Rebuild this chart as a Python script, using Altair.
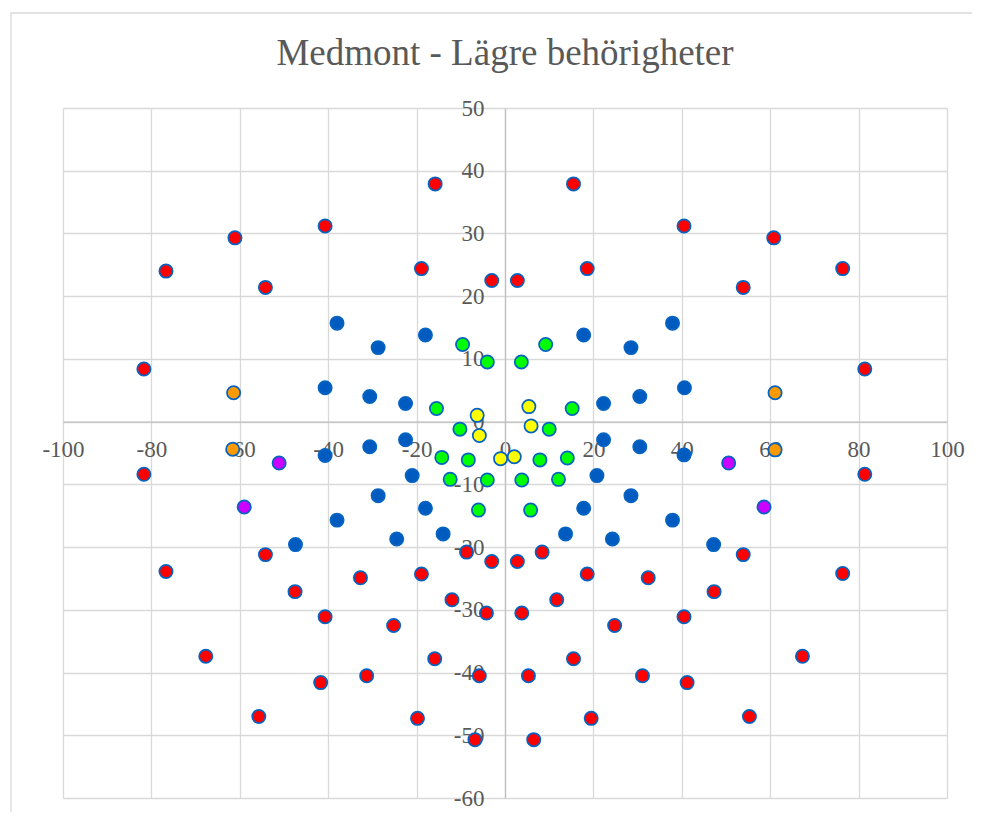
import altair as alt
import pandas as pd

# ---- data ----
red_x = [-15.8, 15.5, -40.7, 40.5, -61.1, 60.8, -76.7, 76.4, -54.2, 53.9, -18.9, 18.6, -3.0, 2.8, -81.7, 81.4,
         -81.7, 81.4, -76.7, 76.4, -54.2, 53.9, -47.5, 47.3, -32.7, 32.4, -18.9, 18.6, -8.7, 8.4, -3.0, 2.8,
         -12.0, 11.7, -4.2, 3.8, -40.7, 40.5, -25.2, 24.8, -67.7, 67.3, -15.9, 15.5, -41.7, 41.2, -31.3, 31.1,
         -5.8, 5.3, -55.7, 55.3, -19.8, 19.5, -6.8, 6.5]
red_y = [37.9, 37.9, 31.2, 31.2, 29.3, 29.3, 24.0, 24.4, 21.4, 21.4, 24.4, 24.4, 22.5, 22.5, 8.4, 8.4,
         -8.4, -8.4, -23.9, -24.2, -21.2, -21.2, -27.1, -27.1, -24.9, -24.9, -24.3, -24.3, -20.8, -20.8, -22.3, -22.3,
         -28.4, -28.4, -30.5, -30.5, -31.1, -31.1, -32.5, -32.5, -37.4, -37.4, -37.8, -37.8, -41.6, -41.6, -40.5, -40.5,
         -40.5, -40.5, -47.0, -47.0, -47.3, -47.3, -50.7, -50.7]

blue_x = [-38.0, 37.9, -28.7, 28.5, -18.0, 17.8, -40.7, 40.6, -30.6, 30.5, -22.5, 22.3, -22.5, 22.3, -30.6, 30.5,
          -40.7, 40.5, -21.0, 20.8, -28.7, 28.5, -18.0, 17.8, -38.0, 37.9, -14.0, 13.7, -24.5, 24.3, -47.4, 47.2]
blue_y = [15.7, 15.7, 11.8, 11.8, 13.8, 13.8, 5.4, 5.4, 4.0, 4.0, 2.9, 2.9, -2.9, -2.9, -4.0, -4.0,
          -5.4, -5.3, -8.6, -8.6, -11.8, -11.8, -13.8, -13.8, -15.7, -15.7, -17.9, -17.9, -18.7, -18.7, -19.6, -19.6]

orange_x = [-61.4, 61.1, -61.6, 61.1]
orange_y = [4.6, 4.6, -4.4, -4.5]

purple_x = [-51.1, 50.6, -59.0, 58.6]
purple_y = [-6.6, -6.6, -13.6, -13.6]

green_x = [-9.6, 9.2, -4.0, 3.7, -15.5, 15.2, -10.2, 10.0, -14.3, 14.1, -8.3, 7.9, -12.4, 12.1, -4.0, 3.8, -6.0, 5.8]
green_y = [12.3, 12.3, 9.5, 9.5, 2.1, 2.1, -1.2, -1.2, -5.7, -5.8, -6.1, -6.1, -9.2, -9.2, -9.3, -9.3, -14.1, -14.1]

yellow_x = [-6.3, 5.4, -5.8, 5.9, -1.0, 2.1]
yellow_y = [1.0, 2.4, -2.2, -0.7, -5.9, -5.6]

x_ticks = [-100, -80, -60, -40, -20, 0, 20, 40, 60, 80, 100]
y_ticks = [-60, -50, -40, -30, -20, -10, 0, 10, 20, 30, 40, 50]

series_names = ["blue", "red", "orange", "purple", "green", "yellow"]
series_colors = ["#005BC0", "#FF0000", "#FF9900", "#CC00FF", "#00FF00", "#FFFF00"]

rows = []
for name, xs, ys in [("red", red_x, red_y), ("blue", blue_x, blue_y), ("orange", orange_x, orange_y),
                     ("purple", purple_x, purple_y), ("green", green_x, green_y), ("yellow", yellow_x, yellow_y)]:
    for xv, yv in zip(xs, ys):
        rows.append({"x": xv, "y": yv, "series": name})
df = pd.DataFrame(rows)

W, H = 884, 690
FONT = "'Liberation Serif', 'Times New Roman', 'DejaVu Serif', serif"
GREY = "#595959"

border = alt.Chart(pd.DataFrame({"a": [0]})).mark_rect(
    fill="transparent", stroke="#D9D9D9", strokeWidth=1.3
).encode(
    x=alt.value(-52), x2=alt.value(W + 300),
    y=alt.value(-95), y2=alt.value(H + 300),
)

points = alt.Chart(df).mark_circle(
    size=175, opacity=1, stroke="#0563C1", strokeWidth=1.75
).encode(
    x=alt.X("x:Q",
            scale=alt.Scale(domain=[-100, 100], nice=False, zero=False),
            axis=alt.Axis(values=x_ticks, title=None, offset=-H * 60 / 110, grid=True,
                          ticks=False, tickSize=0, labelPadding=17, labelFlush=False,
                          labelOverlap=False, labelBaseline="top", labelAlign="center",
                          labelExpr="'' + datum.value")),
    y=alt.Y("y:Q",
            scale=alt.Scale(domain=[-60, 50], nice=False, zero=False),
            axis=alt.Axis(values=y_ticks, title=None, offset=-W / 2, grid=True,
                          ticks=False, tickSize=0, labelPadding=21, labelFlush=False,
                          labelOverlap=False, labelBaseline="middle", labelAlign="right",
                          labelExpr="'' + datum.value")),
    color=alt.Color("series:N", scale=alt.Scale(domain=series_names, range=series_colors), legend=None),
)

chart = alt.layer(border, points).properties(
    width=W, height=H,
    padding={"left": 55, "top": 100, "right": 25, "bottom": 14},
    autosize=alt.AutoSizeParams(type="none"),
    title=alt.TitleParams("Medmont - Lägre behörigheter", font=FONT, fontSize=37, fontWeight="normal",
                          color=GREY, anchor="middle", offset=-90, baseline="alphabetic"),
).configure_view(stroke=None).configure_axis(
    labelFont=FONT, labelFontSize=23, labelColor=GREY,
    gridColor="#D9D9D9", gridWidth=1.3, domainColor="#BFBFBF", domainWidth=1.3,
)

chart.save("out.html", embed_options={"renderer": "svg", "actions": False})
